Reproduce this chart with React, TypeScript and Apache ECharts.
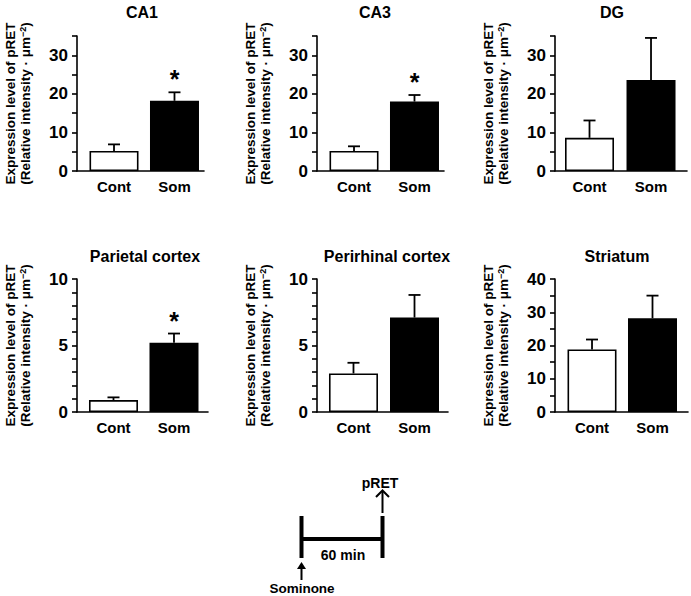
import React, { useEffect, useRef } from "react";
import * as echarts from "echarts";

// ---- data ----
const regions = ["CA1", "CA3", "DG", "Parietal cortex", "Perirhinal cortex", "Striatum"];
const groups = ["Cont", "Som"];
const contMean = [5.2, 5.2, 8.6, 0.9, 2.9, 18.8];
const contSem = [1.7, 1.2, 4.5, 0.2, 0.8, 3.0];
const somMean = [18.2, 18.0, 23.6, 5.2, 7.1, 28.2];
const somSem = [2.2, 1.7, 10.9, 0.7, 1.7, 6.8];
const significant = [true, true, false, true, false, false];
const yMax = [35, 35, 35, 10, 10, 40];
const yStep = [5, 5, 5, 1, 1, 5];
const yLabelStep = [10, 10, 10, 5, 5, 10];

// ---- layout (pixels) ----
const layout = [
  { left: 77, top: 36, width: 127, height: 135, xMin: 0.388, xMax: 2.488, tx: 142, ty: 4 },
  { left: 317, top: 36, width: 127, height: 135, xMin: 0.388, xMax: 2.488, tx: 375, ty: 4 },
  { left: 555, top: 36, width: 132, height: 135, xMin: 0.439, xMax: 2.585, tx: 612, ty: 4 },
  { left: 77, top: 279, width: 131, height: 133, xMin: 0.397, xMax: 2.562, tx: 145, ty: 248 },
  { left: 317, top: 279, width: 131, height: 133, xMin: 0.402, xMax: 2.549, tx: 387, ty: 248 },
  { left: 555, top: 279, width: 133, height: 133, xMin: 0.388, xMax: 2.587, tx: 617, ty: 248 },
];

const FONT = '"Liberation Sans", Arial, Helvetica, sans-serif';
const bold = (size: number) => ({ fontFamily: FONT, fontWeight: "bold" as const, fontSize: size, color: "#000" });

const renderErr = (params: any, api: any) => {
  const x = api.value(0);
  const m = api.value(1);
  const e = api.value(2);
  const sig = api.value(3);
  const p0 = api.coord([x, m]);
  const p1 = api.coord([x, m + e]);
  const children: any[] = [
    { type: "line", shape: { x1: p0[0], y1: p0[1], x2: p1[0], y2: p1[1] }, style: { stroke: "#000", lineWidth: 1.8 } },
    { type: "line", shape: { x1: p1[0] - 6, y1: p1[1], x2: p1[0] + 6, y2: p1[1] }, style: { stroke: "#000", lineWidth: 1.8 } },
  ];
  if (sig) {
    children.push({
      type: "text",
      x: p1[0],
      y: p1[1] - 13,
      style: { text: "*", fill: "#000", font: `bold 25px ${FONT}`, align: "center", verticalAlign: "middle" },
    });
  }
  return { type: "group", children };
};

function buildOption() {
  const grid: any[] = [];
  const xAxis: any[] = [];
  const yAxis: any[] = [];
  const series: any[] = [];
  const title: any[] = [];
  regions.forEach((name, i) => {
    const L = layout[i];
    grid.push({ left: L.left, top: L.top, width: L.width, height: L.height });
    xAxis.push({
      type: "value",
      gridIndex: i,
      min: L.xMin,
      max: L.xMax,
      axisLine: { show: true, onZero: false, lineStyle: { color: "#000", width: 1.6 } },
      axisTick: { show: false },
      axisLabel: { show: false },
      splitLine: { show: false },
    });
    yAxis.push({
      type: "value",
      gridIndex: i,
      min: 0,
      max: yMax[i],
      interval: yStep[i],
      axisLine: { show: true, lineStyle: { color: "#000", width: 1.6 } },
      axisTick: { show: true, length: 5, lineStyle: { color: "#000", width: 1.6 } },
      axisLabel: {
        ...bold(17),
        margin: 9,
        formatter: (v: number) => (Math.round(v) % yLabelStep[i] === 0 ? String(v) : ""),
      },
      splitLine: { show: false },
      name: "{a|Expression level of pRET}\n{a|(Relative intensity · μm}{s|−2}{a|)}",
      nameLocation: "middle",
      nameRotate: 90,
      nameGap: 44,
      nameTextStyle: {
        ...bold(13.5),
        lineHeight: 15,
        rich: {
          a: { ...bold(13.5), lineHeight: 15 },
          s: { ...bold(9), lineHeight: 9, verticalAlign: "top" },
        },
      },
    });
    series.push({
      type: "bar",
      xAxisIndex: i,
      yAxisIndex: i,
      barWidth: 49,
      data: [
        { value: [1, contMean[i]], itemStyle: { color: "#fff", borderColor: "#000", borderWidth: 1.6 } },
        { value: [2, somMean[i]], itemStyle: { color: "#000", borderColor: "#000", borderWidth: 1.6 } },
      ],
      label: {
        show: true,
        position: "bottom",
        distance: 8,
        ...bold(15),
        formatter: (p: any) => groups[p.dataIndex],
      },
    });
    series.push({
      type: "custom",
      xAxisIndex: i,
      yAxisIndex: i,
      z: 3,
      encode: { x: 0, y: 1 },
      renderItem: renderErr,
      data: [
        [1, contMean[i], contSem[i], 0],
        [2, somMean[i], somSem[i], significant[i] ? 1 : 0],
      ],
    });
    title.push({
      text: name,
      left: L.tx,
      top: L.ty,
      textAlign: "center",
      padding: 0,
      textStyle: { ...bold(16) },
    });
  });

  const thick = { stroke: "#000", lineWidth: 4 };
  const thin = { stroke: "#000", lineWidth: 2 };
  const graphic: any[] = [
    { type: "line", shape: { x1: 301.5, y1: 516, x2: 301.5, y2: 558 }, style: thick },
    { type: "line", shape: { x1: 382.5, y1: 516, x2: 382.5, y2: 558 }, style: thick },
    { type: "line", shape: { x1: 301.5, y1: 539, x2: 382.5, y2: 539 }, style: thick },
    { type: "text", x: 343, y: 555, style: { text: "60 min", font: `bold 14px ${FONT}`, fill: "#000", align: "center", verticalAlign: "middle" } },
    { type: "line", shape: { x1: 382.5, y1: 513, x2: 382.5, y2: 491 }, style: thin },
    { type: "polyline", shape: { points: [[376, 497], [382.5, 490.5], [389, 497]] }, style: { ...thin, fill: null } },
    { type: "text", x: 380, y: 483, style: { text: "pRET", font: `bold 14px ${FONT}`, fill: "#000", align: "center", verticalAlign: "middle" } },
    { type: "line", shape: { x1: 301.5, y1: 580, x2: 301.5, y2: 567 }, style: thin },
    { type: "polygon", shape: { points: [[297, 569], [301.5, 562], [306, 569]] }, style: { fill: "#000" } },
    { type: "text", x: 302, y: 588, style: { text: "Sominone", font: `bold 13.5px ${FONT}`, fill: "#000", align: "center", verticalAlign: "middle" } },
  ];

  return { animation: false, backgroundColor: "#fff", title, grid, xAxis, yAxis, series, graphic };
}

export default function App() {
  const ref = useRef<HTMLDivElement>(null);
  useEffect(() => {
    document.body.style.margin = "0";
    const chart = echarts.init(ref.current!, undefined, { renderer: "svg" });
    chart.setOption(buildOption() as any);
    return () => chart.dispose();
  }, []);
  return <div ref={ref} style={{ width: 691, height: 596 }} />;
}
